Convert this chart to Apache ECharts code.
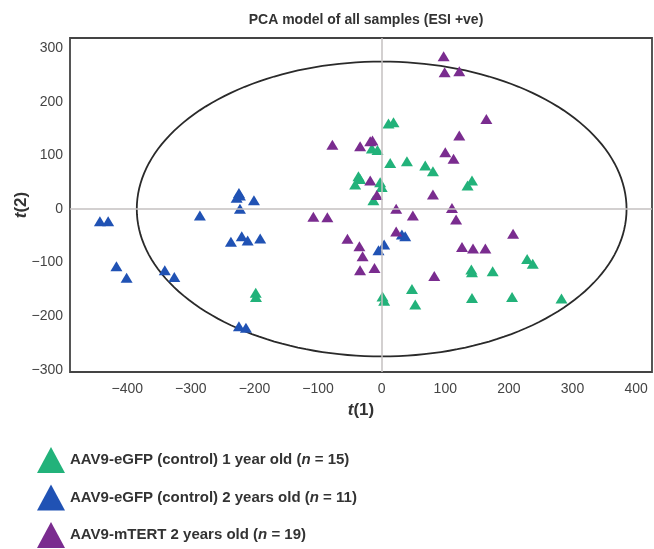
<!DOCTYPE html>
<html>
<head>
<meta charset="utf-8">
<script src="https://cdn.jsdelivr.net/npm/echarts@6/dist/echarts.min.js"></script>
<style>html,body{margin:0;padding:0;background:#fff}#c{width:654px;height:549px}</style>
</head>
<body>
<div id="c"></div>
<script>
// ---- data: [t(1), t(2)] ----
var seriesNames = [
  'AAV9-eGFP (control) 1 year old (n = 15)',
  'AAV9-eGFP (control) 2 years old (n = 11)',
  'AAV9-mTERT 2 years old (n = 19)'
];
var green1y = [
  [10.7,159.5],[18.6,162],[-15.4,113],[-6.6,110],[13.4,86],[39.7,89],[68.5,81],[80.6,70.5],
  [-36.5,61],[-34,56],[-41.7,45.7],[-2.4,50],[0,41],[142,53],[135,44],[-13,16.4],
  [228.7,-93],[237.5,-102],[141,-113],[142,-118],[174.5,-116],[47.6,-149],[1.3,-163],[3.9,-171],
  [52.8,-178],[142,-166],[205,-164],[282.7,-167],[-198,-156],[-197.6,-164]
];
var blue2y = [
  [-224.4,30],[-222.8,25],[-228,21],[-200.8,16.4],[-222.8,0.4],[-443,-22.8],[-430,-22.8],[-285.8,-12],
  [-220,-50.7],[-237,-61],[-210.7,-58.8],[-191,-55],[-417,-106.7],[-401,-128],[-341,-114],[-326,-127],
  [-224.4,-218.6],[-213.4,-221.6],[31.8,-47.6],[37,-50.7],[3.9,-66],[-5,-77]
];
var purpleTert = [
  [-77.5,120],[-33.9,117],[-18,126.5],[-14.5,128],[97.4,285],[99,255],[122,257],[164.6,168],
  [122,137],[100,106],[113,93.6],[-18,53],[-7.6,26],[80.6,27],[22.8,0.4],[110.5,2],
  [49,-12],[117,-19.6],[-107.4,-14.6],[-85.4,-15.3],[22.8,-42],[-53.8,-55.6],[-35,-69.4],[-30,-88],
  [126.3,-71],[143.6,-73.7],[163,-73.7],[206.6,-46],[-34,-114],[-11.3,-110],[82.7,-125]
];
var xTicks = [-400,-300,-200,-100,0,100,200,300,400];
var yTicks = [-300,-200,-100,0,100,200,300];
var xRange = [-490, 425];
var yRange = [-304, 319];
var ellipseCenter = [0, 0];
var ellipseRadii = [385, 275];   // Hotelling T2 ellipse semi-axes, in t(1)/t(2) units

var colors = ['#22b27a', '#2052b4', '#7a2c8f'];
var FONT = "'Liberation Sans', Arial, Helvetica, sans-serif";

var chart = echarts.init(document.getElementById('c'), null, {renderer: 'canvas'});

function legendFmt(name) {
  return name.replace('(n =', '({i|n} =');
}
function tickFmt(v) {
  return v < 0 ? '\u2212' + Math.abs(v) : String(v);
}

var option = {
  animation: false,
  backgroundColor: '#fff',
  textStyle: {fontFamily: FONT},
  title: {
    text: 'PCA model of all samples (ESI +ve)',
    left: 361, top: 8, textAlign: 'center',
    textStyle: {fontFamily: FONT, fontSize: 14, fontWeight: 'bold', color: '#333'}
  },
  grid: {
    left: 70, right: 2, top: 38, bottom: 177,
    containLabel: false, outerBoundsMode: 'none',
    show: true, borderColor: '#444', borderWidth: 1.8, backgroundColor: '#fff'
  },
  xAxis: {
    type: 'value', min: xRange[0], max: xRange[1],
    name: '{i|t}{b|(1)}', nameLocation: 'middle', nameGap: 30, nameMoveOverlap: false,
    nameTextStyle: {
      rich: {
        i: {fontFamily: FONT, fontSize: 17, fontWeight: 'bold', fontStyle: 'italic', color: '#333'},
        b: {fontFamily: FONT, fontSize: 17, fontWeight: 'bold', color: '#333'}
      }
    },
    axisLine: {show: false}, axisTick: {show: false}, splitLine: {show: false},
    axisLabel: {customValues: xTicks, formatter: tickFmt, margin: 10, fontSize: 14, color: '#444', fontFamily: FONT}
  },
  yAxis: {
    type: 'value', min: yRange[0], max: yRange[1],
    name: '{i|t}{b|(2)}', nameLocation: 'middle', nameGap: 40, nameMoveOverlap: false,
    nameTextStyle: {
      rich: {
        i: {fontFamily: FONT, fontSize: 17, fontWeight: 'bold', fontStyle: 'italic', color: '#333'},
        b: {fontFamily: FONT, fontSize: 17, fontWeight: 'bold', color: '#333'}
      }
    },
    axisLine: {show: false}, axisTick: {show: false}, splitLine: {show: false},
    axisLabel: {customValues: yTicks, formatter: tickFmt, margin: 7, fontSize: 14, color: '#444', fontFamily: FONT}
  },
  legend: {
    data: seriesNames.map(function (n) { return {name: n, icon: 'triangle'}; }),
    orient: 'vertical', left: 37, top: 447, padding: 0,
    itemWidth: 28, itemHeight: 26, itemGap: 11.5,
    formatter: legendFmt,
    textStyle: {
      fontFamily: FONT, fontSize: 15, fontWeight: 'bold', color: '#333',
      rich: {i: {fontFamily: FONT, fontSize: 15, fontWeight: 'bold', fontStyle: 'italic', color: '#333'}}
    }
  },
  series: [
    {
      type: 'custom', name: 'ellipse', z: 1, silent: true,
      data: [ellipseCenter],
      renderItem: function (params, api) {
        var pts = [];
        var n = 180;
        for (var k = 0; k < n; k++) {
          var a = k / n * Math.PI * 2;
          pts.push(api.coord([
            ellipseCenter[0] + ellipseRadii[0] * Math.cos(a),
            ellipseCenter[1] + ellipseRadii[1] * Math.sin(a)
          ]));
        }
        return {
          type: 'polygon',
          shape: {points: pts, smooth: 0},
          style: {fill: 'none', stroke: '#2a2a2a', lineWidth: 1.8}
        };
      },
      markLine: {
        silent: true, symbol: 'none', label: {show: false},
        lineStyle: {color: '#c4c0c0', width: 1.5, type: 'solid'},
        data: [{xAxis: 0}, {yAxis: 0}]
      }
    },
    {type: 'scatter', name: seriesNames[0], data: green1y, symbol: 'triangle', symbolSize: [12, 10],
     itemStyle: {color: colors[0], opacity: 1}, z: 3},
    {type: 'scatter', name: seriesNames[1], data: blue2y, symbol: 'triangle', symbolSize: [12, 10],
     itemStyle: {color: colors[1], opacity: 1}, z: 3},
    {type: 'scatter', name: seriesNames[2], data: purpleTert, symbol: 'triangle', symbolSize: [12, 10],
     itemStyle: {color: colors[2], opacity: 1}, z: 3}
  ]
};
chart.setOption(option);
</script>
</body>
</html>
